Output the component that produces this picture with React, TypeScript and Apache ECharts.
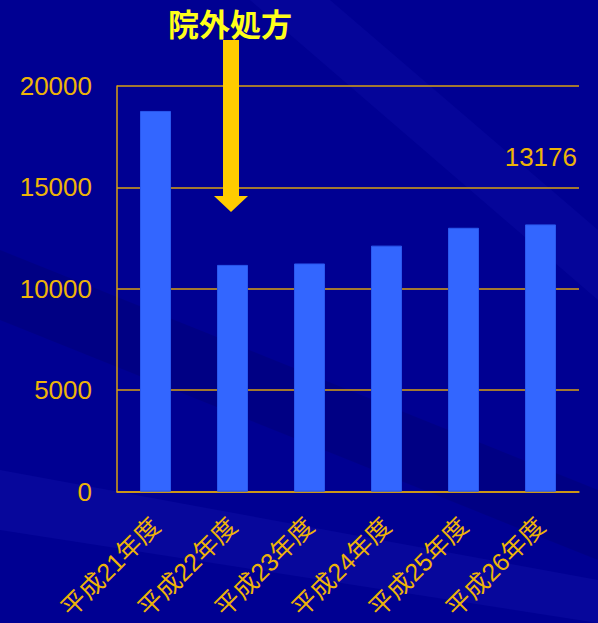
import React, { useEffect, useRef } from "react";
import * as echarts from "echarts";

const categories = ["平成21年度", "平成22年度", "平成23年度", "平成24年度", "平成25年度", "平成26年度"];
const values = [18770, 11180, 11250, 12130, 13010, 13176];
const yTicks = [0, 5000, 10000, 15000, 20000];
const titleText = "院外処方";

export default function App() {
  const ref = useRef<HTMLDivElement>(null);
  useEffect(() => {
    if (!ref.current) return;
    const chart = echarts.init(ref.current, null, { renderer: "svg" });
    const labelColor = "#EEB408";
    const lineColor = "#D9A010";
    chart.setOption({
      animation: false,
      backgroundColor: "#000092",
      grid: { left: 117, top: 86, width: 462, height: 406, containLabel: false },
      xAxis: {
        type: "category",
        data: categories,
        boundaryGap: true,
        axisTick: { show: false },
        axisLine: { show: true, lineStyle: { color: lineColor, width: 1.5 } },
        axisLabel: {
          rotate: 45,
          color: labelColor,
          fontSize: 25,
          fontFamily: "'Liberation Sans', 'Noto Sans CJK JP'",
          margin: 30,
          interval: 0,
        },
        splitLine: { show: false },
      },
      yAxis: {
        type: "value",
        min: yTicks[0],
        max: yTicks[yTicks.length - 1],
        interval: 5000,
        axisLine: { show: true, lineStyle: { color: lineColor, width: 1.5 } },
        axisTick: { show: false },
        axisLabel: {
          color: labelColor,
          fontSize: 26,
          fontFamily: "'Liberation Sans'",
          margin: 25,
          formatter: (v: number) => String(v),
        },
        splitLine: { show: true, lineStyle: { color: lineColor, width: 1.5 } },
      },
      series: [
        {
          type: "bar",
          data: values,
          barWidth: 31,
          itemStyle: { color: "#3366FF", borderColor: "#2A58EE", borderWidth: 1 },
          z: 3,
        },
      ],
      graphic: [
        {
          type: "polygon",
          z: -1,
          silent: true,
          shape: { points: [[0, 470], [598, 580], [598, 623], [0, 530]] },
          style: { fill: "rgba(50,50,210,0.15)" },
        },
        {
          type: "polygon",
          z: -1,
          silent: true,
          shape: { points: [[250, 0], [330, 0], [598, 230], [598, 300]] },
          style: { fill: "rgba(30,30,190,0.18)" },
        },
        {
          type: "polygon",
          z: -1,
          silent: true,
          shape: { points: [[0, 250], [0, 320], [598, 560], [598, 490]] },
          style: { fill: "rgba(0,0,80,0.2)" },
        },
        {
          type: "polygon",
          shape: {
            points: [
              [223, 40],
              [239, 40],
              [239, 196],
              [248, 196],
              [231, 212],
              [214, 196],
              [223, 196],
            ],
          },
          style: { fill: "#FFCC00" },
          z: 10,
        },
        {
          type: "text",
          x: 230,
          y: 22,
          z: 20,
          style: {
            text: titleText,
            fill: "#FFFF1A",
            font: "bold 31px 'Noto Sans CJK JP'",
            align: "center",
            verticalAlign: "middle",
            lineHeight: 32,
          },
        },
        {
          type: "text",
          right: 21,
          top: 144,
          style: {
            text: String(values[values.length - 1]),
            fill: labelColor,
            font: "26px 'Liberation Sans'",
          },
        },
      ],
    });
    return () => chart.dispose();
  }, []);
  return <div ref={ref} style={{ position: "fixed", left: 0, top: 0, width: 598, height: 623 }} />;
}
